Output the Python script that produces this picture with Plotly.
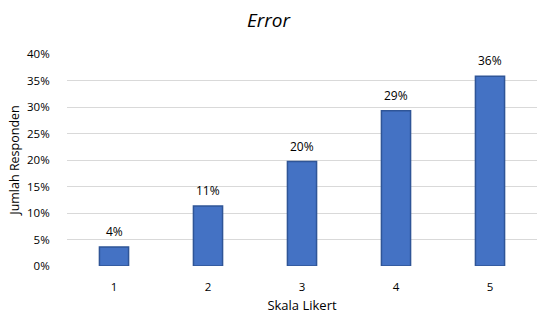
import plotly.graph_objects as go

categories = ["1", "2", "3", "4", "5"]
values = [0.036, 0.113, 0.197, 0.293, 0.358]
y_ticks = [0, 0.05, 0.10, 0.15, 0.20, 0.25, 0.30, 0.35, 0.40]

font = "Open Sans, Liberation Sans, sans-serif"

fig = go.Figure(go.Bar(
    x=categories, y=values,
    width=0.31,
    marker=dict(color="#4472C4", line=dict(color="#2F5597", width=1.5)),
    hoverinfo="skip",
))

for i, v in enumerate(values):
    fig.add_annotation(x=i, y=v, text=f"{v:.0%}", showarrow=False,
                       yanchor="bottom", yshift=5,
                       font=dict(size=12, color="#000000", family=font))

fig.update_layout(
    width=537, height=318,
    margin=dict(l=67, r=0, t=54, b=52),
    paper_bgcolor="white", plot_bgcolor="white",
    title=dict(text="<i>Error</i>", x=0.5, xanchor="center", y=0.935, yanchor="middle",
               font=dict(size=19, color="#000000", family=font)),
    showlegend=False,
    xaxis=dict(type="category", range=[-0.5, 4.5], showgrid=False, showline=False, zeroline=False,
               ticks="outside", ticklen=10, tickcolor="rgba(0,0,0,0)",
               tickfont=dict(size=11.5, color="#000000", family=font),
               title=dict(text="Skala Likert", standoff=8,
                          font=dict(size=13, color="#000000", family=font))),
    yaxis=dict(range=[0, 0.4], tickvals=y_ticks, tickformat=".0%",
               showgrid=True, gridcolor="#D9D9D9", gridwidth=1, zeroline=False, showline=False,
               ticks="outside", ticklen=14, tickcolor="rgba(0,0,0,0)",
               tickfont=dict(size=11.5, color="#000000", family=font),
               title=dict(text="Jumlah Responden", standoff=4,
                          font=dict(size=12.5, color="#000000", family=font))),
)

fig.write_html("out.html", config={"displayModeBar": False},
               post_script="document.body.style.margin='0';")
